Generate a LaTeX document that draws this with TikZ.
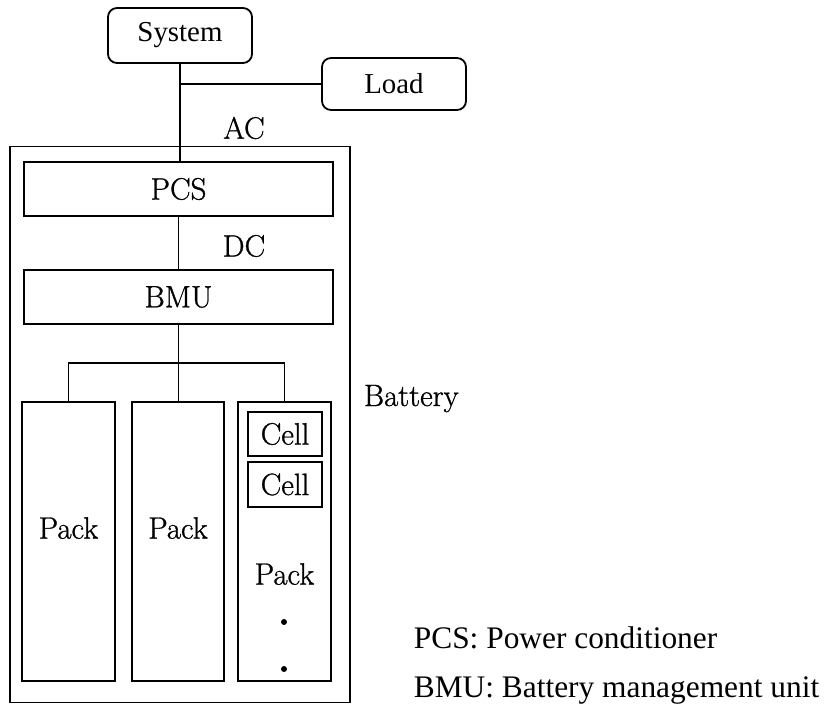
\documentclass[tikz,border=0pt]{standalone}
\usepackage{fontspec}
\newfontfamily\tnr{Liberation Serif}
\newfontfamily\cent{Latin Modern Roman}[FakeBold=0.9]
\begin{document}
\begin{tikzpicture}[x=1bp,y=-1bp,line width=1.8bp,
  rbox/.style={draw,rounded corners=9bp,inner sep=0pt,minimum width=144bp,font=\tnr\fontsize{29}{34}\selectfont},
  sbox/.style={draw,inner sep=0pt},
  lbl/.style={inner sep=0pt,font=\cent\fontsize{31}{36}\selectfont},
  leg/.style={inner sep=0pt,anchor=base west,font=\tnr\fontsize{31.5}{36}\selectfont}]
\useasboundingbox (0,0) rectangle (830,704);
% top
\node[rbox,minimum height=55bp] (system) at (180,35.5) {System};
\node[rbox,minimum height=52bp] (load) at (394,84) {Load};
% battery outer
\node[sbox,minimum width=340bp,minimum height=556bp] (bat) at (180,424.5) {};
\node[sbox,minimum width=309bp,minimum height=54bp,lbl] (pcs) at (178.5,189) {PCS};
\node[sbox,minimum width=309bp,minimum height=54bp,lbl] (bmu) at (178.5,297) {BMU};
\coordinate (j1) at (180,84);
\draw (system.south) -- (system.south |- pcs.north);
\draw (j1) -- (load.west);
\node[lbl] (ac) at (244,128) {AC};
\draw (pcs.south) -- (bmu.north);
\node[lbl] (dc) at (244,246) {DC};
% packs
\node[sbox,minimum width=93bp,minimum height=279bp] (p1) at (68.5,541.5) {};
\node[sbox,minimum width=92bp,minimum height=279bp] (p2) at (178,541.5) {};
\node[sbox,minimum width=93bp,minimum height=279bp] (p3) at (284.5,541.5) {};
\coordinate (bus) at (178.5,363);
\draw (bmu.south) -- (bus);
\draw (p1.north) |- (bus) -| (p3.north);
\draw (bus) -- (bus |- p2.north);
\node[lbl] (p1l) at (68.5,528) {Pack};
\node[lbl] (p2l) at (178,528) {Pack};
\node[lbl] (p3l) at (284.5,574) {Pack};
\node[sbox,lbl,minimum width=74bp,minimum height=44bp] (c1) at (285,434) {Cell};
\node[sbox,lbl,minimum width=74bp,minimum height=45bp] (c2) at (285,484.5) {Cell};
\fill (284,622) circle (3bp);
\fill (284,669) circle (3bp);
\node[lbl,anchor=base west] (battl) at (363,406) {Battery};
\node[leg] (leg1) at (413,648) {PCS: Power conditioner};
\node[leg] (leg2) at (413,697) {BMU: Battery management unit};
\end{tikzpicture}
\end{document}
